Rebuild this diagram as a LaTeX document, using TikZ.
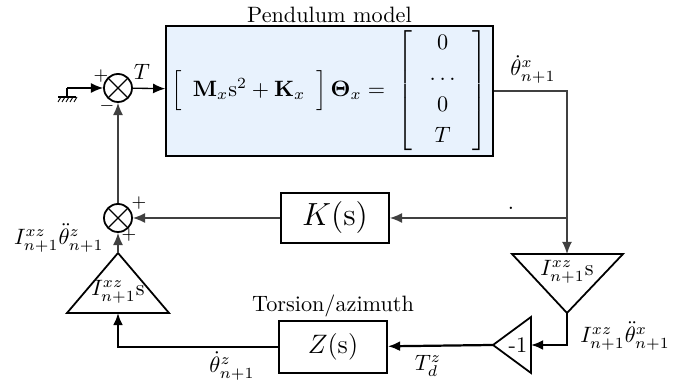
\documentclass[tikz,border=0pt]{standalone}
\usetikzlibrary{arrows.meta}
\definecolor{pendfill}{RGB}{232,242,253}
\tikzset{
  blk/.style={draw,line width=0.8pt,inner sep=0pt},
  sumnode/.style={draw,circle,line width=0.8pt,minimum size=12.6pt,inner sep=0pt,
    path picture={\draw[line width=0.6pt]
      (path picture bounding box.north west) -- (path picture bounding box.south east)
      (path picture bounding box.north east) -- (path picture bounding box.south west);}},
  sig/.style={->,line width=0.6pt,black!75},
  sigb/.style={->,line width=1pt},
  gain/.style={line width=0.8pt},
  sgn/.style={font=\footnotesize,inner sep=0pt},
}
\begin{document}
\begin{tikzpicture}[x=0.45pt,y=-0.45pt,>={Latex[length=5.5pt,width=4.5pt]}]
  \useasboundingbox (0,0) rectangle (697,383);
  % summing junctions
  \node[sumnode] (sumT) at (118,88) {};
  \node[sumnode] (sumK) at (118,218) {};
  \node[sgn] (pT) at (101,76) {$+$};
  \node[sgn] (mT) at (107,106) {$-$};
  \node[sgn] (pK1) at (139,203) {$+$};
  \node[sgn] (pK2) at (129,235) {$+$};
  % blocks
  \node[blk,fill=pendfill,minimum width=147pt,minimum height=58.5pt] (pend) at (329.5,91)
    {$\Bigl[\enspace\mathbf{M}_x\mathrm{s}^2+\mathbf{K}_x\enspace\Bigr]\,\mathbf{\Theta}_x=\;
      \left[\;\begin{array}{c}0\\[2pt]\dots\\[2pt]0\\[2pt]T\end{array}\;\right]$};
  \node[above,inner sep=1pt] (pendlbl) at (pend.north) {Pendulum model};
  \node[blk,minimum width=48.6pt,minimum height=22.5pt,font=\Large] (K) at (335,218) {$K(\mathrm{s})$};
  \node[blk,minimum width=48.6pt,minimum height=23.4pt,font=\large] (Z) at (333,347) {$Z(\mathrm{s})$};
  \node[above,inner sep=1pt] (Zlbl) at (Z.north) {Torsion/azimuth};
  % gains
  \coordinate (ltip) at (118,253);
  \coordinate (lbase) at (118,313);
  \draw[gain] (ltip) -- (169,313) -- (67,313) -- cycle;
  \node (lgain) at (118,292) {$I^{xz}_{n+1}\mathrm{s}$};
  \coordinate (rtop) at (567,254);
  \coordinate (rtip) at (567,313);
  \draw[gain] (512,254) -- (623,254) -- (rtip) -- cycle;
  \node (rgain) at (567,272) {$I^{xz}_{n+1}\mathrm{s}$};
  \coordinate (ntip) at (493,345);
  \coordinate (nbase) at (531,345);
  \draw[gain] (ntip) -- (531,317) -- (531,373) -- cycle;
  \node (ngain) at (518,345) {-1};
  % ground
  \coordinate (gnd) at (67,88);
  \draw[line width=0.5pt] (gnd) -- (67,97) (58,97) -- (76,97);
  \foreach \hx in {61,65,69,73,77}
    \draw[line width=0.4pt] (\hx,97) -- ++(-3,5);
  % signals
  \draw[sig,black] (gnd) -- (sumT);
  \draw[sig,black] (sumT) -- (pend);
  \node (Tlbl) at (142,72) {$T$};
  \draw[sig] (pend.east) -| (rtop);
  \node[anchor=south,inner sep=1pt] (thx) at (533,86) {$\dot\theta^x_{n+1}$};
  \coordinate (br) at (567,218);
  \draw[sig] (br) -- (K);
  \node[inner sep=0pt] (dot) at (511,208) {.};
  \draw[sig] (K) -- (sumK);
  \draw[sig] (sumK) -- (sumT);
  \draw[sig] (ltip) -- (sumK);
  \node[anchor=east,inner sep=0pt] (lacc) at (104,238) {$I^{xz}_{n+1}\ddot\theta^z_{n+1}$};
  \draw[sigb] (rtip) |- (nbase);
  \node[anchor=west,inner sep=0pt] (racc) at (580,336) {$I^{xz}_{n+1}\ddot\theta^x_{n+1}$};
  \draw[sigb] (ntip) -- (Z);
  \node (Td) at (428,366) {$T^z_d$};
  \draw[sigb] (Z) -| (lbase);
  \node (thz) at (232,366) {$\dot\theta^z_{n+1}$};
\end{tikzpicture}
\end{document}
